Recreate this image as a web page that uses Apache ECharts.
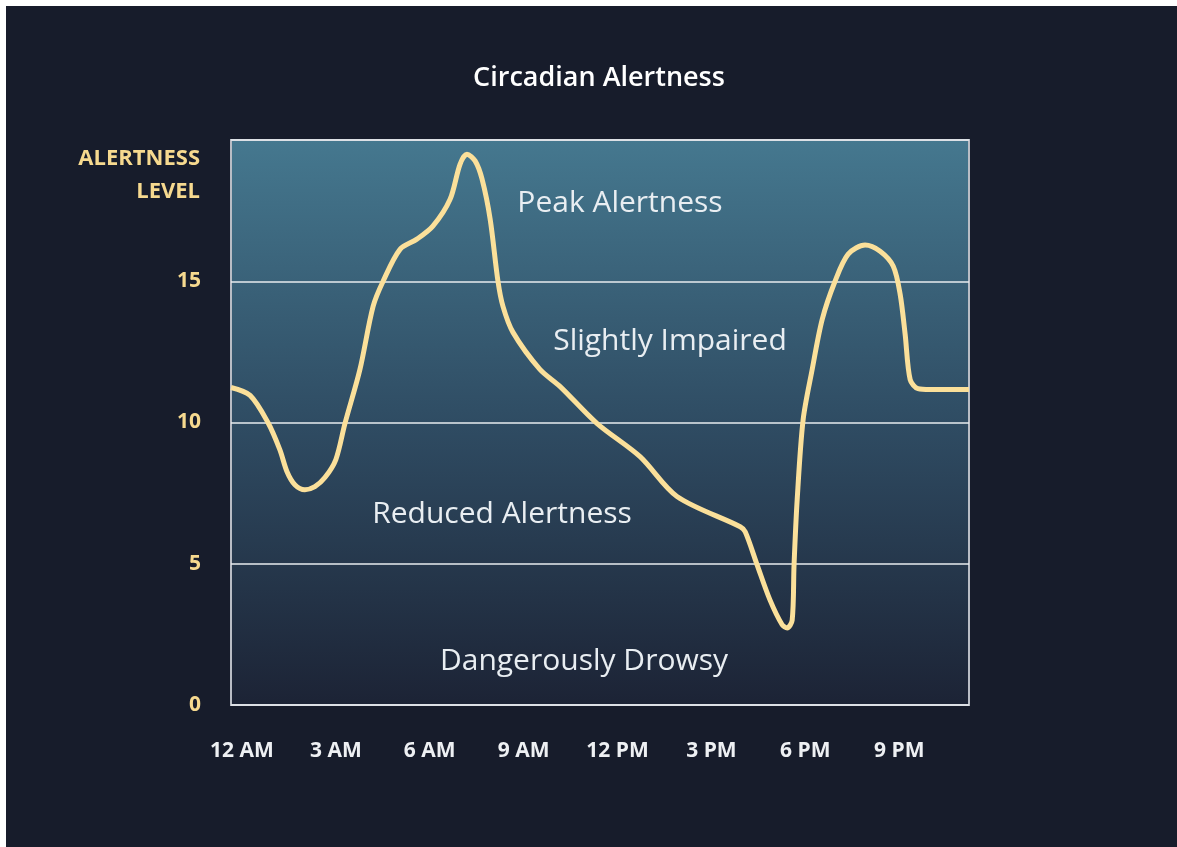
<!DOCTYPE html>
<html>
<head>
<meta charset="utf-8">
<title>Circadian Alertness</title>
<script src="https://cdn.jsdelivr.net/npm/echarts@6/dist/echarts.min.js"></script>
<style>
  html, body { margin: 0; padding: 0; background: #ffffff; }
  #chart { position: absolute; left: 6px; top: 6px; width: 1171px; height: 841px; }
</style>
</head>
<body>
<div id="chart"></div>
<script>
// hour of day (0 = midnight) and alertness level
var hours = [-0.35, 0.26, 0.83, 1.21, 1.44, 1.69, 2.01, 2.33, 2.65, 3.0,
  3.29, 3.77, 4.19, 4.51, 5.05, 5.59, 6.1, 6.65, 6.97, 7.19,
  7.45, 7.67, 7.93, 8.18, 8.34, 8.66, 9.52, 10.16, 11.35, 12.72,
  13.9, 15.92, 16.08, 16.46, 16.87, 17.26, 17.42, 17.58, 17.64, 17.74,
  17.93, 18.22, 18.54, 18.95, 19.37, 19.91, 20.39, 20.81, 21.03, 21.19,
  21.35, 21.6, 21.99, 23.23]
var alertness = [11.24, 10.96, 10.0, 9.04, 8.26, 7.8, 7.62, 7.73, 8.05, 8.69,
  9.96, 11.88, 14.11, 15.0, 16.13, 16.49, 16.95, 17.9, 19.15, 19.5,
  19.26, 18.62, 17.2, 15.0, 14.11, 13.19, 11.88, 11.28, 9.96, 8.79,
  7.38, 6.31, 6.13, 4.96, 3.72, 2.84, 2.73, 3.0, 4.96, 7.27,
  10.1, 11.88, 13.65, 15.0, 15.96, 16.28, 16.06, 15.53, 14.54, 13.12,
  11.52, 11.2, 11.17, 11.17]

// x axis ticks
var tickHours = [0, 3, 6, 9, 12, 15, 18, 21]
var tickLabels = ['12 AM', '3 AM', '6 AM', '9 AM', '12 PM', '3 PM', '6 PM', '9 PM']

// zone names
var zones = ['Peak Alertness', 'Slightly Impaired', 'Reduced Alertness', 'Dangerously Drowsy']

var points = hours.map(function (h, i) { return [h, alertness[i]] })

var chart = echarts.init(document.getElementById('chart'))

function zoneText(text, x, y) {
  return {
    type: 'text',
    x: x,
    y: y,
    style: {
      text: text,
      fill: '#e9eef2',
      fontFamily: 'Open Sans',
      fontSize: 30,
      fontWeight: 400,
      textAlign: 'center',
      textVerticalAlign: 'middle'
    }
  }
}

chart.setOption({
  backgroundColor: '#171c2b',
  animation: false,
  grid: {
    left: 225,
    top: 134,
    right: 208,
    bottom: 142,
    show: true,
    borderColor: '#b9bdc5',
    borderWidth: 2,
    backgroundColor: new echarts.graphic.LinearGradient(0, 0, 0, 1, [
      { offset: 0, color: '#45788f' },
      { offset: 0.5, color: '#2f4c63' },
      { offset: 1, color: '#1c2335' }
    ])
  },
  xAxis: {
    type: 'value',
    min: -0.35,
    max: 23.23,
    axisLine: { show: false },
    axisTick: { show: false },
    splitLine: { show: false },
    axisLabel: {
      customValues: tickHours,
      margin: 36,
      color: '#eef0f3',
      fontFamily: 'Open Sans',
      fontWeight: 'bold',
      fontSize: 21,
      formatter: function (v) {
        var i = tickHours.indexOf(v)
        return i >= 0 ? tickLabels[i] : ''
      }
    }
  },
  yAxis: {
    type: 'value',
    min: 0,
    max: 20,
    interval: 5,
    axisLine: { show: false },
    axisTick: { show: false },
    axisLabel: {
      margin: 30,
      color: '#f6d98f',
      fontFamily: 'Open Sans',
      fontWeight: 'bold',
      fontSize: 21,
      formatter: function (v) { return v === 20 ? '' : v }
    },
    splitLine: {
      lineStyle: { color: '#e8ecef', width: 1.5 }
    }
  },
  graphic: [
    {
      type: 'text',
      x: 593,
      y: 72,
      style: {
        text: 'Circadian Alertness',
        fill: '#ffffff',
        fontFamily: 'Open Sans',
        fontSize: 27,
        fontWeight: 600,
        textAlign: 'center',
        textVerticalAlign: 'middle'
      }
    },
    {
      type: 'text',
      x: 194,
      y: 169,
      style: {
        text: 'ALERTNESS\nLEVEL',
        fill: '#f6d98f',
        fontFamily: 'Open Sans',
        fontSize: 22,
        fontWeight: 'bold',
        lineHeight: 33,
        textAlign: 'right',
        textVerticalAlign: 'middle'
      }
    },
    zoneText(zones[0], 614, 197),
    zoneText(zones[1], 664, 335),
    zoneText(zones[2], 496, 508),
    zoneText(zones[3], 578, 655)
  ],
  series: [{
    type: 'line',
    data: points,
    smooth: 0.3,
    showSymbol: false,
    clip: true,
    lineStyle: { color: '#fbe09a', width: 5 }
  }]
})
</script>
</body>
</html>
